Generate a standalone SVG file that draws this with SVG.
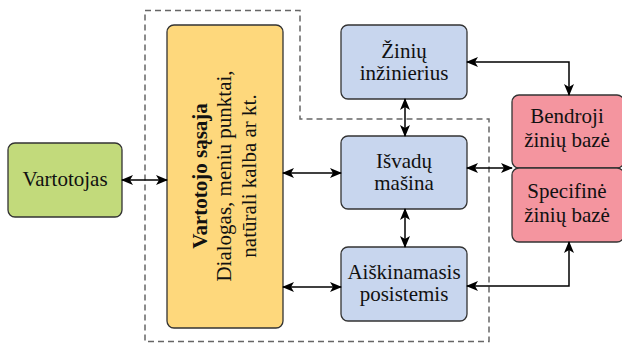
<svg xmlns="http://www.w3.org/2000/svg" width="622" height="343" viewBox="0 0 622 343">
<defs>
<marker id="ah" viewBox="0 0 12 10" refX="11" refY="5" markerWidth="12" markerHeight="10" markerUnits="userSpaceOnUse" orient="auto-start-reverse">
<path d="M0,0 L12,5 L0,10 L3,5 Z" fill="#000"/>
</marker>
</defs>
<style>
.box{stroke:#333;stroke-width:1.3}
.g{fill:#c2da7b}.y{fill:#fed87c}.b{fill:#c8d6ee}.r{fill:#f4959f}
text{font-family:"Liberation Serif","Times New Roman",serif;font-size:21px;fill:#111;text-anchor:middle}
.c{fill:none;stroke:#000;stroke-width:1.5;marker-start:url(#ah);marker-end:url(#ah)}
.dash{fill:none;stroke:#666;stroke-width:1.5;stroke-dasharray:6 4}
</style>
<path class="dash" d="M145,10.5 H300 V119 H489 V341.5 H145 Z"/>
<g id="vartotojas"><rect class="box g" x="8" y="143" width="114" height="74" rx="7"/><text x="65" y="186">Vartotojas</text></g>
<g id="sasaja"><rect class="box y" x="167" y="25" width="116" height="303" rx="7"/>
<g transform="translate(225,176) rotate(-90)"><text y="-18" font-weight="bold">Vartotojo sąsaja</text><text y="6">Dialogas, meniu punktai,</text><text y="31">natūrali kalba ar kt.</text></g></g>
<g id="inzinierius"><rect class="box b" x="341" y="25" width="126" height="74" rx="7"/><text x="404" y="58">Žinių</text><text x="404" y="80">inžinierius</text></g>
<g id="masina"><rect class="box b" x="341" y="136" width="126" height="73" rx="7"/><text x="404" y="168">Išvadų</text><text x="404" y="190">mašina</text></g>
<g id="posistemis"><rect class="box b" x="341" y="247" width="126" height="74" rx="7"/><text x="404" y="279">Aiškinamasis</text><text x="404" y="301">posistemis</text></g>
<g id="bendroji"><rect class="box r" x="512" y="95" width="112" height="73" rx="7"/><text x="567" y="123">Bendroji</text><text x="567" y="147">žinių bazė</text></g>
<g id="specifine"><rect class="box r" x="512" y="168" width="112" height="74" rx="7"/><text x="567" y="198">Specifinė</text><text x="567" y="222">žinių bazė</text></g>
<g id="connectors">
<path class="c" d="M122,180 H167"/>
<path class="c" d="M283,173 H341"/>
<path class="c" d="M283,287 H341"/>
<path class="c" d="M405,99 V136"/>
<path class="c" d="M405,209 V247"/>
<path class="c" d="M467,168 H512"/>
<path class="c" d="M467,62 H569 V95"/>
<path class="c" d="M467,286 H569 V242"/>
</g>
</svg>
